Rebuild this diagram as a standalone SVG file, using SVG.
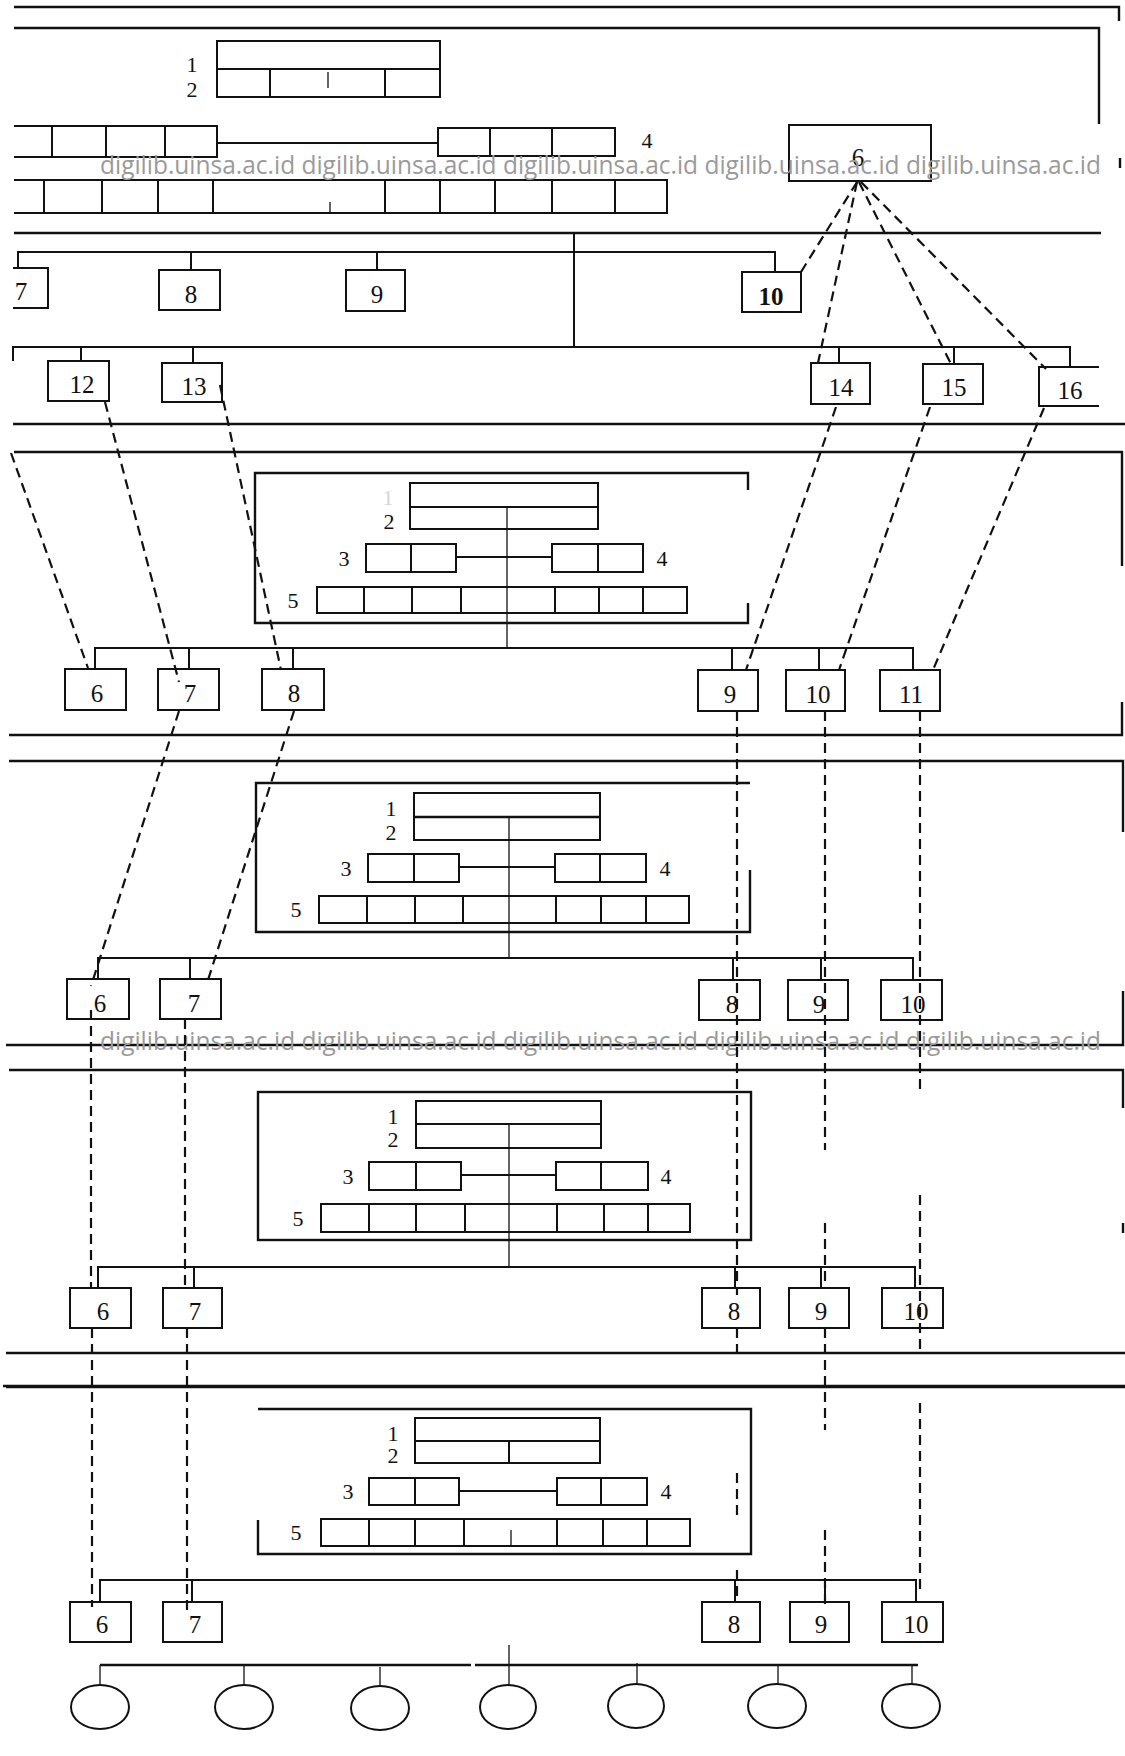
<svg xmlns="http://www.w3.org/2000/svg" width="1125" height="1756" viewBox="0 0 1125 1756">
<style>
.f{fill:none;stroke:#111;stroke-width:2.4}
.b{fill:none;stroke:#111;stroke-width:2}
.t{fill:none;stroke:#111;stroke-width:1.3}
.d{fill:none;stroke:#111;stroke-width:2.2;stroke-dasharray:10 6}
.l{font-family:"Liberation Serif","Times New Roman",serif;font-size:25px;fill:#111;text-anchor:middle}
.s{font-family:"Liberation Serif","Times New Roman",serif;font-size:22px;fill:#111;text-anchor:middle}
.w{font-family:"Open Sans","DejaVu Sans",sans-serif;font-size:25px;fill:#9a9a9a}
</style>
<rect width="1125" height="1756" fill="#fff"/>

<!-- Section 1 -->
<g id="sec1">
<path class="f" d="M14,7H1119V21M14,28H1099V124M1120,158V168"/>
<g id="s1-rec12">
<rect class="b" x="217" y="41" width="223" height="56"/>
<path class="b" d="M217,69H440M270,69V97M385,69V97"/>
<path class="t" d="M328,72V88"/>
<text class="s" x="192" y="72">1</text>
<text class="s" x="192" y="97">2</text>
</g>
<g id="s1-rec3"><path class="b" d="M14,126H217V157H14M52,126V157M106,126V157M165,126V157"/></g>
<path class="b" d="M217,143H438"/>
<g id="s1-rec4">
<rect class="b" x="438" y="128" width="177" height="28"/>
<path class="b" d="M490,128V156M552,128V156"/>
<text class="s" x="647" y="148">4</text>
</g>
<g id="s1-rec5">
<path class="b" d="M14,180H667V213H14M44,180V213M102,180V213M158,180V213M213,180V213M385,180V213M440,180V213M495,180V213M552,180V213M615,180V213"/>
<path class="t" d="M330,202V212"/>
</g>
<g id="s1-n6"><rect class="b" x="789" y="125" width="142" height="56"/><text class="l" x="858" y="166">6</text></g>
</g>
<text class="w" x="100" y="174" textLength="1001" lengthAdjust="spacingAndGlyphs">digilib.uinsa.ac.id digilib.uinsa.ac.id digilib.uinsa.ac.id digilib.uinsa.ac.id digilib.uinsa.ac.id</text>

<!-- Section 2 -->
<g id="sec2">
<path class="f" d="M14,233H1101M13,424H1125"/>
<path class="b" d="M574,233V347"/>
<path class="b" d="M18,268V252H775V272M191,252V270M377,252V270"/>
<path class="b" d="M13,361V347H1070V367M81,347V361M193,347V363M839,347V363M954,347V364"/>
<g id="s2-n7"><path class="b" d="M13,268H48V308H13"/><text class="l" x="21" y="300">7</text></g>
<g id="s2-n8"><rect class="b" x="159" y="270" width="61" height="40"/><text class="l" x="191" y="303">8</text></g>
<g id="s2-n9"><rect class="b" x="346" y="270" width="59" height="41"/><text class="l" x="377" y="303">9</text></g>
<g id="s2-n10"><rect class="b" x="742" y="272" width="59" height="40"/><text class="l" x="771" y="305" style="font-weight:bold">10</text></g>
<g id="s2-n12"><rect class="b" x="48" y="361" width="61" height="40"/><text class="l" x="82" y="393">12</text></g>
<g id="s2-n13"><rect class="b" x="162" y="363" width="60" height="39"/><text class="l" x="194" y="395">13</text></g>
<g id="s2-n14"><rect class="b" x="811" y="363" width="59" height="41"/><text class="l" x="841" y="396">14</text></g>
<g id="s2-n15"><rect class="b" x="923" y="364" width="60" height="40"/><text class="l" x="954" y="396">15</text></g>
<g id="s2-n16"><path class="b" d="M1099,367H1039V406H1099"/><text class="l" x="1070" y="399">16</text></g>
</g>

<!-- Section 3 -->
<g id="sec3">
<path class="f" d="M14,452H1122V566M1122,702V735H9"/>
<path class="f" d="M748,490V473H255V623H748V603"/>
<g id="s3-rec12">
<rect class="b" x="410" y="483" width="188" height="46"/>
<path class="b" d="M410,507H598"/>
<text class="s" x="388" y="505" style="fill:#d6d6d6">1</text>
<text class="s" x="389" y="529">2</text>
</g>
<path class="t" d="M507,507V648"/>
<g id="s3-rec3"><rect class="b" x="366" y="544" width="90" height="28"/><path class="b" d="M411,544V572"/><text class="s" x="344" y="566">3</text></g>
<path class="b" d="M456,557H552"/>
<g id="s3-rec4"><rect class="b" x="552" y="544" width="91" height="28"/><path class="b" d="M598,544V572"/><text class="s" x="662" y="566">4</text></g>
<g id="s3-rec5"><rect class="b" x="317" y="587" width="370" height="26"/><path class="b" d="M364,587V613M412,587V613M461,587V613M555,587V613M599,587V613M643,587V613"/><text class="s" x="293" y="608">5</text></g>
<path class="b" d="M95,669V648H913V670M189,648V669M293,648V669M732,648V670M819,648V670"/>
<g id="s3-n6"><rect class="b" x="65" y="669" width="61" height="41"/><text class="l" x="97" y="702">6</text></g>
<g id="s3-n7"><rect class="b" x="158" y="669" width="61" height="41"/><text class="l" x="190" y="702">7</text></g>
<g id="s3-n8"><rect class="b" x="262" y="669" width="62" height="41"/><text class="l" x="294" y="702">8</text></g>
<g id="s3-n9"><rect class="b" x="698" y="670" width="60" height="41"/><text class="l" x="730" y="703">9</text></g>
<g id="s3-n10"><rect class="b" x="786" y="670" width="59" height="41"/><text class="l" x="818" y="703">10</text></g>
<g id="s3-n11"><rect class="b" x="880" y="670" width="60" height="41"/><text class="l" x="911" y="703">11</text></g>
</g>

<!-- Section 4 -->
<g id="sec4">
<path class="f" d="M9,761H1123V832M1123,991V1045H6"/>
<path class="f" d="M750,783H256V932H750V870"/>
<g id="s4-rec12">
<rect class="b" x="414" y="793" width="186" height="47"/>
<path class="f" d="M414,817H600"/>
<text class="s" x="391" y="816">1</text>
<text class="s" x="391" y="840">2</text>
</g>
<path class="t" d="M509,817V958"/>
<g id="s4-rec3"><rect class="b" x="368" y="854" width="91" height="28"/><path class="b" d="M414,854V882"/><text class="s" x="346" y="876">3</text></g>
<path class="b" d="M459,867H555"/>
<g id="s4-rec4"><rect class="b" x="555" y="854" width="91" height="28"/><path class="b" d="M600,854V882"/><text class="s" x="665" y="876">4</text></g>
<g id="s4-rec5"><rect class="b" x="319" y="896" width="370" height="27"/><path class="b" d="M367,896V923M415,896V923M463,896V923M556,896V923M601,896V923M646,896V923"/><text class="s" x="296" y="917">5</text></g>
<path class="b" d="M98,979V958H913V980M190,958V979M733,958V980M821,958V980"/>
<g id="s4-n6"><rect class="b" x="67" y="979" width="62" height="40"/><text class="l" x="100" y="1012">6</text></g>
<g id="s4-n7"><rect class="b" x="160" y="979" width="61" height="40"/><text class="l" x="194" y="1012">7</text></g>
<g id="s4-n8"><rect class="b" x="699" y="980" width="61" height="40"/><text class="l" x="732" y="1013">8</text></g>
<g id="s4-n9"><rect class="b" x="788" y="980" width="60" height="40"/><text class="l" x="819" y="1013">9</text></g>
<g id="s4-n10"><rect class="b" x="881" y="980" width="61" height="40"/><text class="l" x="913" y="1013">10</text></g>
</g>
<text class="w" x="100" y="1050" textLength="1001" lengthAdjust="spacingAndGlyphs">digilib.uinsa.ac.id digilib.uinsa.ac.id digilib.uinsa.ac.id digilib.uinsa.ac.id digilib.uinsa.ac.id</text>

<!-- Section 5 -->
<g id="sec5">
<path class="f" d="M9,1070H1123V1108M1123,1223V1233M6,1353H1125M6,1387H1125"/>
<rect class="f" x="258" y="1092" width="493" height="148"/>
<g id="s5-rec12">
<rect class="b" x="416" y="1101" width="185" height="47"/>
<path class="b" d="M416,1124H601"/>
<text class="s" x="393" y="1124">1</text>
<text class="s" x="393" y="1147">2</text>
</g>
<path class="t" d="M509,1124V1267"/>
<g id="s5-rec3"><rect class="b" x="369" y="1162" width="92" height="28"/><path class="b" d="M416,1162V1190"/><text class="s" x="348" y="1184">3</text></g>
<path class="b" d="M461,1175H556"/>
<g id="s5-rec4"><rect class="b" x="556" y="1162" width="92" height="28"/><path class="b" d="M601,1162V1190"/><text class="s" x="666" y="1184">4</text></g>
<g id="s5-rec5"><rect class="b" x="321" y="1204" width="369" height="28"/><path class="b" d="M369,1204V1232M416,1204V1232M465,1204V1232M557,1204V1232M604,1204V1232M648,1204V1232"/><text class="s" x="298" y="1226">5</text></g>
<path class="b" d="M98,1288V1267H915V1288M194,1267V1288M735,1267V1288M821,1267V1288"/>
<g id="s5-n6"><rect class="b" x="70" y="1288" width="61" height="40"/><text class="l" x="103" y="1320">6</text></g>
<g id="s5-n7"><rect class="b" x="163" y="1288" width="59" height="40"/><text class="l" x="195" y="1320">7</text></g>
<g id="s5-n8"><rect class="b" x="702" y="1288" width="58" height="40"/><text class="l" x="734" y="1320">8</text></g>
<g id="s5-n9"><rect class="b" x="789" y="1288" width="60" height="40"/><text class="l" x="821" y="1320">9</text></g>
<g id="s5-n10"><rect class="b" x="882" y="1288" width="61" height="40"/><text class="l" x="916" y="1320">10</text></g>
</g>

<!-- Section 6 -->
<g id="sec6">
<path class="f" d="M3,1386H1125"/>
<path class="f" d="M258,1409H751V1554H258V1520"/>
<g id="s6-rec12">
<rect class="b" x="415" y="1418" width="185" height="45"/>
<path class="b" d="M415,1441H600M509,1441V1463"/>
<text class="s" x="393" y="1441">1</text>
<text class="s" x="393" y="1463">2</text>
</g>
<g id="s6-rec3"><rect class="b" x="369" y="1478" width="90" height="27"/><path class="b" d="M415,1478V1505"/><text class="s" x="348" y="1499">3</text></g>
<path class="b" d="M459,1491H557"/>
<g id="s6-rec4"><rect class="b" x="557" y="1478" width="90" height="27"/><path class="b" d="M601,1478V1505"/><text class="s" x="666" y="1499">4</text></g>
<g id="s6-rec5"><rect class="b" x="321" y="1519" width="369" height="27"/><path class="b" d="M369,1519V1546M415,1519V1546M464,1519V1546M557,1519V1546M603,1519V1546M647,1519V1546"/><path class="t" d="M511,1530V1546"/><text class="s" x="296" y="1540">5</text></g>
<path class="b" d="M100,1602V1580H916V1602M192,1580V1602M735,1580V1602M825,1580V1602"/>
<g id="s6-n6"><rect class="b" x="70" y="1602" width="61" height="40"/><text class="l" x="102" y="1633">6</text></g>
<g id="s6-n7"><rect class="b" x="163" y="1602" width="59" height="40"/><text class="l" x="195" y="1633">7</text></g>
<g id="s6-n8"><rect class="b" x="702" y="1602" width="58" height="40"/><text class="l" x="734" y="1633">8</text></g>
<g id="s6-n9"><rect class="b" x="790" y="1602" width="59" height="40"/><text class="l" x="821" y="1633">9</text></g>
<g id="s6-n10"><rect class="b" x="882" y="1602" width="61" height="40"/><text class="l" x="916" y="1633">10</text></g>
<path class="t" d="M509,1645V1685"/>
<path class="f" d="M100,1665H471M475,1665H918"/>
<path class="t" d="M100,1665V1685M244,1665V1685M380,1667V1686M637,1663V1685M778,1665V1685M912,1665V1685"/>
<g id="s6-c1"><ellipse class="b" cx="100" cy="1707" rx="29" ry="22"/></g>
<g id="s6-c2"><ellipse class="b" cx="244" cy="1707" rx="29" ry="22"/></g>
<g id="s6-c3"><ellipse class="b" cx="380" cy="1708" rx="29" ry="22"/></g>
<g id="s6-c4"><ellipse class="b" cx="508" cy="1707" rx="28" ry="22"/></g>
<g id="s6-c5"><ellipse class="b" cx="636" cy="1706" rx="28" ry="22"/></g>
<g id="s6-c6"><ellipse class="b" cx="777" cy="1706" rx="29" ry="22"/></g>
<g id="s6-c7"><ellipse class="b" cx="911" cy="1706" rx="29" ry="22"/></g>
</g>

<!-- Dashed connectors -->
<g id="connectors">
<path class="d" d="M857,182L801,272"/>
<path class="d" d="M857,182L818,363"/>
<path class="d" d="M859,182L951,364"/>
<path class="d" d="M861,182L1046,369"/>
<path class="d" d="M105,402L179,682"/>
<path class="d" d="M220,385L281,670"/>
<path class="d" d="M11,453L88,668"/>
<path class="d" d="M836,407L746,670"/>
<path class="d" d="M930,407L839,670"/>
<path class="d" d="M1044,408L933,670"/>
<path class="d" d="M179,711L91,986"/>
<path class="d" d="M294,711L208,980"/>
<path class="d" d="M737,711V1295M737,1328V1353M737,1473V1520M737,1570V1602"/>
<path class="d" d="M825,711V1150M825,1223V1288M825,1328V1430M825,1530V1610"/>
<path class="d" d="M920,711V1091M920,1195V1353M920,1403V1593"/>
<path class="d" d="M91,1010V1288M92,1328V1607"/>
<path class="d" d="M185,1019V1290M187,1328V1610"/>
</g>
</svg>
